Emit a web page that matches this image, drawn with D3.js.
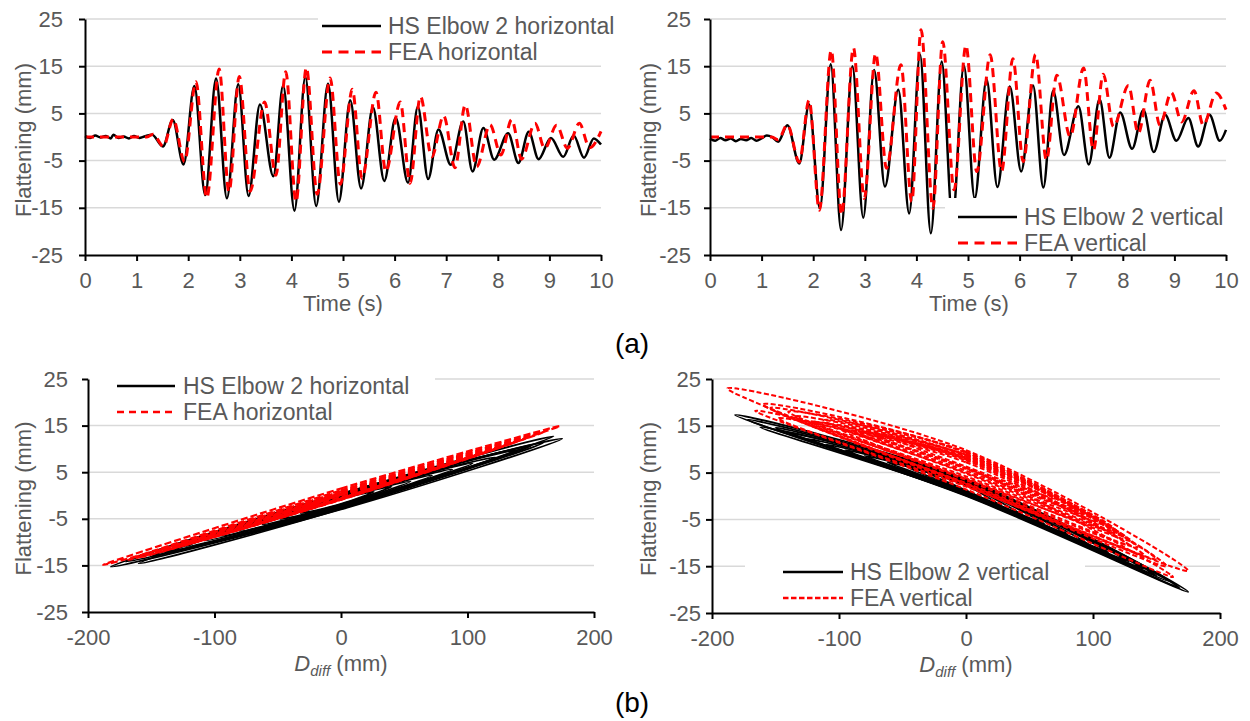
<!DOCTYPE html>
<html>
<head>
<meta charset="utf-8">
<script src="https://cdn.jsdelivr.net/npm/d3@7"></script>
<style>
  body { margin: 0; background: #fff; }
  svg { display: block; font-family: "Liberation Sans", Arial, sans-serif; }
</style>
</head>
<body>
<svg width="1250" height="721"></svg>
<script>
// ---------- data ----------
const flatTicks = [-25, -15, -5, 5, 15, 25];
const timeTicks = [0, 1, 2, 3, 4, 5, 6, 7, 8, 9, 10];
const diffTicks = [-200, -100, 0, 100, 200];

// [time (s), flattening (mm)] - turning points
const hsHorizontal = [
  [0, 0.2], [0.1, -0.2], [0.2, 0.3], [0.3, -0.1], [0.4, 0.2], [0.5, -0.3], [0.55, 0.5],
  [0.65, -0.2], [0.75, 0.1], [0.85, -0.3], [0.95, 0.2], [1.05, -0.2], [1.15, 0.1],
  [1.3, 0.5], [1.51, -2.0], [1.70, 3.6], [1.91, -5.8], [2.12, 10.8], [2.33, -12.3],
  [2.54, 12.4], [2.75, -13.0], [2.97, 11.2], [3.17, -12.5], [3.39, 6.9], [3.65, -8.3],
  [3.84, 10.9], [4.06, -15.6], [4.27, 12.7], [4.48, -14.6], [4.71, 11.3], [4.92, -13.7],
  [5.14, 7.8], [5.35, -10.9], [5.58, 6.3], [5.80, -9.3], [6.02, 4.1], [6.26, -9.7],
  [6.45, 6.4], [6.65, -8.9], [6.85, 1.6], [7.09, -5.9], [7.33, 3.3], [7.51, -7.3],
  [7.72, 1.9], [7.93, -4.8], [8.20, 0.8], [8.40, -5.5], [8.60, 1.1], [8.79, -4.7],
  [9.03, -0.2], [9.27, -4.2], [9.47, 0.3], [9.67, -4.4], [9.86, -0.3], [10, -1.6]
];
const feaHorizontal = [
  [0, 0], [1.2, 0], [1.32, 0.6], [1.52, -2.0], [1.71, 3.8], [1.93, -5.2], [2.15, 11.7],
  [2.36, -12.9], [2.60, 14.4], [2.79, -11.6], [2.99, 12.8], [3.20, -11.5], [3.48, 7.4],
  [3.70, -8.1], [3.89, 13.8], [4.09, -13.7], [4.29, 14.7], [4.50, -12.1], [4.75, 12.5],
  [4.95, -10.0], [5.18, 10.1], [5.37, -8.8], [5.64, 9.5], [5.83, -7.3], [6.11, 7.4],
  [6.30, -9.8], [6.50, 8.6], [6.72, -4.2], [6.95, 4.5], [7.17, -6.5], [7.37, 6.8],
  [7.59, -6.3], [7.85, 2.6], [8.06, -3.8], [8.27, 3.7], [8.46, -4.7], [8.72, 2.9],
  [8.91, -2.4], [9.14, 2.5], [9.35, -2.4], [9.58, 2.9], [9.78, -2.3], [10, 1.2]
];
const hsVertical = [
  [0, -0.3], [0.1, -0.8], [0.2, -0.2], [0.3, -0.7], [0.4, -0.3], [0.5, -0.9], [0.6, -0.4],
  [0.7, -0.7], [0.8, -0.2], [0.9, -0.8], [1.0, -0.3], [1.1, 0.3], [1.2, 0.0],
  [1.32, -1.0], [1.50, 2.5], [1.73, -5.6], [1.92, 6.9], [2.13, -15.1], [2.34, 15.4],
  [2.54, -19.7], [2.76, 15.0], [2.97, -17.1], [3.18, 14.2], [3.39, -10.5], [3.65, 10.0],
  [3.86, -16.2], [4.07, 17.5], [4.28, -20.4], [4.49, 16.0], [4.70, -17.5], [4.92, 15.1],
  [5.13, -13.0], [5.36, 12.2], [5.57, -10.6], [5.81, 10.7], [6.03, -7.3], [6.26, 10.9],
  [6.46, -10.7], [6.65, 9.8], [6.86, -3.8], [7.14, 6.5], [7.34, -5.8], [7.55, 8.0],
  [7.74, -4.4], [7.95, 5.2], [8.18, -2.5], [8.40, 5.7], [8.60, -3.2], [8.82, 4.7],
  [9.04, -0.8], [9.27, 4.0], [9.46, -2.0], [9.68, 4.7], [9.88, -0.8], [10, 1.5]
];
const feaVertical = [
  [0, 0], [1.2, 0], [1.32, -0.6], [1.50, 2.6], [1.73, -5.3], [1.92, 7.8], [2.12, -15.5],
  [2.35, 18.4], [2.55, -16.5], [2.78, 18.9], [2.99, -13.0], [3.21, 17.7], [3.42, -6.6],
  [3.70, 15.3], [3.91, -13.7], [4.09, 22.7], [4.32, -15.1], [4.51, 20.2], [4.73, -11.2],
  [4.96, 19.4], [5.17, -7.3], [5.43, 17.4], [5.65, -7.3], [5.87, 16.6], [6.07, -5.2],
  [6.31, 17.5], [6.52, -4.9], [6.72, 13.1], [6.98, 0.1], [7.24, 14.6], [7.43, -2.8],
  [7.62, 13.3], [7.82, 2.2], [8.11, 10.9], [8.30, 0.8], [8.53, 12.0], [8.72, 2.5],
  [8.94, 9.4], [9.14, 3.2], [9.38, 9.8], [9.56, 2.5], [9.81, 9.3], [10, 5.8]
];

// hysteresis loops: [D_diff (mm), flattening (mm)] - left tip, upper branch, right tip, lower branch
const hsHorizontalLoops = [
  [[-182, -15.3], [0, 0.4], [175, 12.2], [0, -3.0]],
  [[-160, -14.6], [0, 0.3], [168, 12.7], [0, -2.9]],
  [[-170, -14.2], [0, 0.3], [160, 11.3], [0, -2.7]],
  [[-150, -13.1], [0, 0.2], [150, 10.6], [0, -2.7]],
  [[-138, -12.1], [0, 0.1], [140, 9.8], [0, -2.6]],
  [[-122, -10.9], [0, 0.0], [122, 8.2], [0, -2.6]],
  [[-108, -9.7], [0, -0.1], [104, 6.9], [0, -2.4]],
  [[-95, -8.7], [0, -0.2], [88, 5.6], [0, -2.3]],
  [[-80, -7.6], [0, -0.3], [72, 4.3], [0, -2.3]],
  [[-62, -6.2], [0, -0.5], [55, 3.0], [0, -2.1]],
  [[-48, -5.1], [0, -0.6], [40, 1.9], [0, -1.9]],
  [[-32, -3.8], [0, -0.7], [26, 0.8], [0, -1.8]]
];
const feaHorizontalLoops = [
  [[-188, -14.9], [0, 1.5], [173, 14.9], [0, -0.3]],
  [[-168, -13.8], [0, 1.1], [160, 13.6], [0, -0.6]],
  [[-158, -13.2], [0, 0.9], [150, 12.7], [0, -0.7]],
  [[-146, -12.3], [0, 0.7], [140, 11.7], [0, -0.8]],
  [[-130, -11.1], [0, 0.5], [126, 10.4], [0, -0.9]],
  [[-118, -10.1], [0, 0.5], [112, 9.3], [0, -0.8]],
  [[-104, -9.0], [0, 0.4], [100, 8.2], [0, -0.9]],
  [[-90, -7.9], [0, 0.3], [88, 7.2], [0, -0.8]],
  [[-70, -6.2], [0, 0.2], [70, 5.6], [0, -0.8]],
  [[-55, -4.9], [0, 0.2], [50, 4.0], [0, -0.7]],
  [[-35, -3.3], [0, 0.1], [35, 2.7], [0, -0.7]]
];
const hsVerticalLoops = [
  [[-182, 17.3], [0, 3.6], [175, -20.5], [0, 0.0]],
  [[-162, 14.7], [0, 3.3], [168, -19.6], [0, 0.2]],
  [[-172, 16.3], [0, 3.4], [160, -18.2], [0, 0.1]],
  [[-150, 14.6], [0, 3.1], [150, -17.0], [0, 0.4]],
  [[-140, 13.6], [0, 3.0], [140, -15.6], [0, 0.5]],
  [[-125, 12.2], [0, 2.9], [128, -14.0], [0, 0.6]],
  [[-110, 11.0], [0, 2.8], [112, -12.0], [0, 0.7]],
  [[-95, 9.8], [0, 2.7], [96, -10.2], [0, 0.8]],
  [[-80, 8.6], [0, 2.6], [80, -8.2], [0, 0.9]],
  [[-62, 7.2], [0, 2.5], [62, -6.0], [0, 1.0]],
  [[-45, 6.0], [0, 2.4], [45, -4.2], [0, 1.1]],
  [[-30, 4.9], [0, 2.3], [30, -2.6], [0, 1.2]]
];
const feaVerticalLoops = [
  [[-188, 23.0], [0, 9.8], [175, -16.0], [0, 2.4]],
  [[-166, 18.2], [0, 6.0], [163, -17.3], [0, 1.4]],
  [[-160, 19.6], [0, 9.2], [158, -15.0], [0, 2.2]],
  [[-154, 18.8], [0, 8.6], [150, -13.5], [0, 2.6]],
  [[-148, 16.6], [0, 7.2], [140, -12.6], [0, 2.0]],
  [[-140, 18.0], [0, 9.4], [135, -11.0], [0, 3.4]],
  [[-135, 17.0], [0, 8.8], [130, -9.6], [0, 3.8]],
  [[-128, 16.0], [0, 7.8], [128, -10.5], [0, 2.8]],
  [[-120, 15.8], [0, 8.2], [125, -8.6], [0, 4.2]],
  [[-112, 16.2], [0, 9.4], [120, -7.8], [0, 4.8]],
  [[-105, 15.2], [0, 8.8], [115, -6.6], [0, 5.0]],
  [[-98, 14.2], [0, 7.6], [108, -7.0], [0, 3.6]],
  [[-90, 14.0], [0, 8.0], [100, -4.6], [0, 5.4]],
  [[-80, 13.6], [0, 8.8], [92, -3.6], [0, 5.8]],
  [[-70, 12.8], [0, 8.4], [85, -2.6], [0, 6.0]],
  [[-55, 12.0], [0, 8.0], [70, -0.6], [0, 6.3]]
];

// ---------- layout ----------
const svg = d3.select("svg");
const GREY = "#595959";

const panels = [
  { left: 85, right: 601, top: 19, bottom: 255, xDomain: [0, 10], xTicks: timeTicks,
    yPad: 16, titleX: 23, xTitle: "time", xTitleX: 343 },
  { left: 710, right: 1226, top: 19, bottom: 255, xDomain: [0, 10], xTicks: timeTicks,
    yPad: 13, titleX: 648, xTitle: "time", xTitleX: 969 },
  { left: 88, right: 594, top: 379, bottom: 612, xDomain: [-200, 200], xTicks: diffTicks,
    yPad: 14, titleX: 23, xTitle: "diff", xTitleX: 341 },
  { left: 712, right: 1220, top: 379, bottom: 613, xDomain: [-200, 200], xTicks: diffTicks,
    yPad: 5, titleX: 648, xTitle: "diff", xTitleX: 966 }
];

function setupPanel(p) {
  const x = d3.scaleLinear().domain(p.xDomain).range([p.left, p.right]);
  const y = d3.scaleLinear().domain([-25, 25]).range([p.bottom, p.top]);
  const g = svg.append("g");

  // horizontal gridlines
  g.append("g").selectAll("line")
    .data(flatTicks.filter((v) => v > -25))
    .join("line")
    .attr("x1", p.left).attr("x2", p.right)
    .attr("y1", (d) => y(d)).attr("y2", (d) => y(d))
    .attr("stroke", "#d9d9d9").attr("stroke-width", 1.5);

  return { p, x, y, g };
}

function drawAxes(panel) {
  const { p, x, y, g } = panel;
  const style = (sel) => {
    sel.attr("font-family", null).attr("font-size", null);
    sel.select(".domain").attr("stroke", "#000").attr("stroke-width", 2);
    sel.selectAll(".tick line").attr("stroke", "#000").attr("stroke-width", 2);
    sel.selectAll(".tick text").attr("fill", GREY).style("font-size", "22px");
  };
  g.append("g")
    .attr("transform", `translate(0,${p.bottom})`)
    .call(d3.axisBottom(x).tickValues(p.xTicks).tickFormat((d) => String(d))
      .tickSize(6).tickSizeOuter(0).tickPadding(11))
    .call(style);
  g.append("g")
    .attr("transform", `translate(${p.left},0)`)
    .call(d3.axisLeft(y).tickValues(flatTicks).tickFormat((d) => String(d))
      .tickSize(6).tickSizeOuter(0).tickPadding(p.yPad))
    .call(style);

  // y title
  const cy = (p.top + p.bottom) / 2 + 3;
  g.append("text")
    .attr("transform", `translate(${p.titleX},${cy}) rotate(-90)`)
    .attr("text-anchor", "middle").attr("dominant-baseline", "central")
    .attr("fill", GREY).style("font-size", "22px")
    .text("Flattening (mm)");

  // x title
  const t = g.append("text")
    .attr("x", p.xTitleX)
    .attr("text-anchor", "middle").attr("fill", GREY).style("font-size", "22px");
  if (p.xTitle === "time") {
    t.attr("y", p.bottom + 56).text("Time (s)");
  } else {
    t.attr("y", p.bottom + 59);
    t.append("tspan").attr("font-style", "italic").text("D");
    t.append("tspan").attr("font-style", "italic").style("font-size", "15px")
      .attr("dy", 5).text("diff");
    t.append("tspan").attr("dy", -5).text(" (mm)");
  }
}

function drawSeries(panel, data, color, width, dash) {
  const { x, y, g } = panel;
  const line = d3.line()
    .x((d) => x(d[0])).y((d) => y(d[1]))
    .curve(d3.curveMonotoneX);
  g.append("path")
    .datum(data)
    .attr("d", line)
    .attr("fill", "none")
    .attr("stroke", color)
    .attr("stroke-width", width)
    .attr("stroke-dasharray", dash)
    .attr("stroke-linejoin", "round");
}

function drawLoops(panel, loops, color, width, dash) {
  const { x, y, g } = panel;
  const line = d3.line()
    .x((d) => x(d[0])).y((d) => y(d[1]))
    .curve(d3.curveCatmullRomClosed.alpha(0.5));
  g.append("g").selectAll("path")
    .data(loops)
    .join("path")
    .attr("d", line)
    .attr("fill", "none")
    .attr("stroke", color)
    .attr("stroke-width", width)
    .attr("stroke-dasharray", dash);
}

function drawLegend(panel, box, rows) {
  const { g } = panel;
  g.append("rect")
    .attr("x", box.x).attr("y", box.y)
    .attr("width", box.w).attr("height", box.h)
    .attr("fill", "#fff");
  rows.forEach((r) => {
    g.append("line")
      .attr("x1", box.lx1).attr("x2", box.lx2)
      .attr("y1", r.y).attr("y2", r.y)
      .attr("stroke", r.color).attr("stroke-width", r.width)
      .attr("stroke-dasharray", r.dash);
    g.append("text")
      .attr("x", box.tx).attr("y", r.y + 8)
      .attr("fill", GREY).style("font-size", "23px")
      .text(r.label);
  });
}

// ---------- panels ----------
const tl = setupPanel(panels[0]);
drawSeries(tl, hsHorizontal, "#000", 2.5, null);
drawSeries(tl, feaHorizontal, "#ff0000", 3, "9,6");
drawLegend(tl, { x: 318, y: 8, w: 300, h: 56, lx1: 322, lx2: 381, tx: 388 }, [
  { y: 26, label: "HS Elbow 2 horizontal", color: "#000", width: 2.5, dash: null },
  { y: 52, label: "FEA horizontal", color: "#ff0000", width: 3, dash: "10,6.5" }
]);
drawAxes(tl);

const tr = setupPanel(panels[1]);
drawSeries(tr, hsVertical, "#000", 2.5, null);
drawSeries(tr, feaVertical, "#ff0000", 3, "9,6");
drawLegend(tr, { x: 945, y: 198, w: 285, h: 55, lx1: 958, lx2: 1017, tx: 1024 }, [
  { y: 217, label: "HS Elbow 2 vertical", color: "#000", width: 2.5, dash: null },
  { y: 243, label: "FEA vertical", color: "#ff0000", width: 3, dash: "10,6.5" }
]);
drawAxes(tr);

const bl = setupPanel(panels[2]);
drawLoops(bl, hsHorizontalLoops, "#000", 1.8, null);
drawLoops(bl, feaHorizontalLoops, "#ff0000", 2.2, "7,3");
drawLegend(bl, { x: 89, y: 368, w: 346, h: 54, lx1: 117, lx2: 175, tx: 183 }, [
  { y: 386, label: "HS Elbow 2 horizontal", color: "#000", width: 2.5, dash: null },
  { y: 412, label: "FEA horizontal", color: "#ff0000", width: 2.5, dash: "7,5" }
]);
drawAxes(bl);

const br = setupPanel(panels[3]);
drawLoops(br, hsVerticalLoops, "#000", 1.8, null);
drawLoops(br, feaVerticalLoops, "#ff0000", 2, "5,2.5");
drawLegend(br, { x: 745, y: 555, w: 340, h: 55, lx1: 783, lx2: 843, tx: 850 }, [
  { y: 572, label: "HS Elbow 2 vertical", color: "#000", width: 2.5, dash: null },
  { y: 598, label: "FEA vertical", color: "#ff0000", width: 2.5, dash: "5.5,2.5" }
]);
drawAxes(br);

// sub-figure labels
svg.append("text").attr("x", 632).attr("y", 353).attr("text-anchor", "middle")
  .style("font-size", "28px").attr("fill", "#000").text("(a)");
svg.append("text").attr("x", 632).attr("y", 712).attr("text-anchor", "middle")
  .style("font-size", "28px").attr("fill", "#000").text("(b)");
</script>
</body>
</html>
